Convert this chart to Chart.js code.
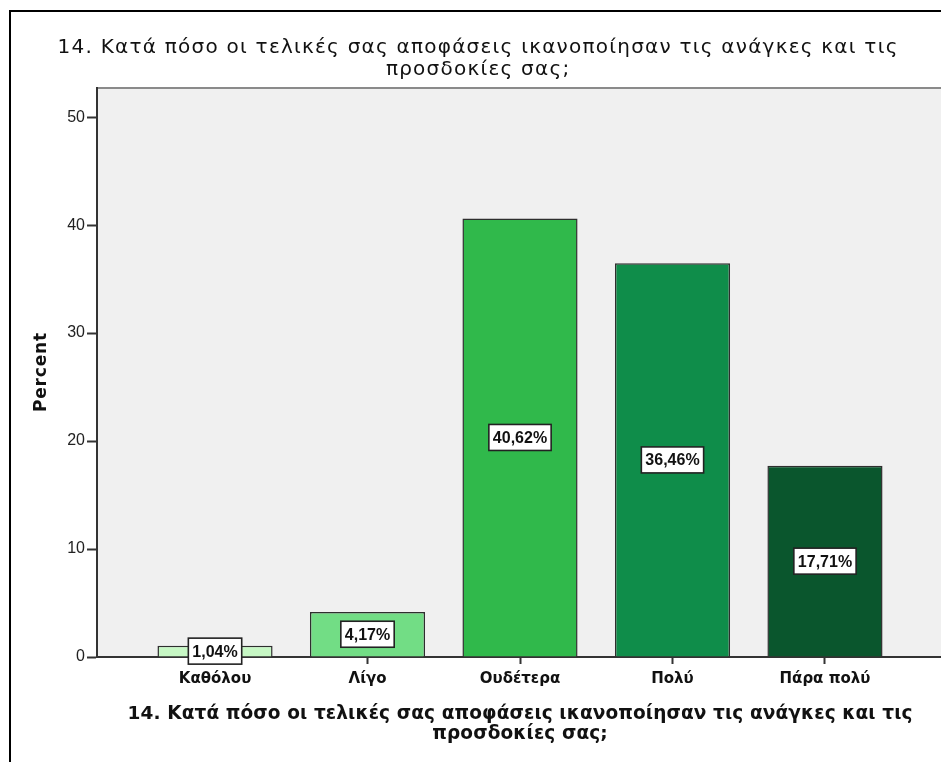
<!DOCTYPE html>
<html>
<head>
<meta charset="utf-8">
<script src="https://cdn.jsdelivr.net/npm/chart.js@4.4.1/dist/chart.umd.min.js"></script>
<style>
  html, body { margin: 0; padding: 0; background: #ffffff; overflow: hidden; }
  canvas { display: block; }
</style>
</head>
<body>
<canvas id="chart" width="960" height="762"></canvas>
<script>
// Question text (used as chart title and as x-axis title)
const questionLines = [
  '14. Κατά πόσο οι τελικές σας αποφάσεις ικανοποίησαν τις ανάγκες και τις',
  'προσδοκίες σας;'
];
// Answer categories and their share of respondents (%)
const categories = ['Καθόλου', 'Λίγο', 'Ουδέτερα', 'Πολύ', 'Πάρα πολύ'];
const percents = [1.04, 4.17, 40.62, 36.46, 17.71];
// Y-axis ticks and title
const yTicks = [0, 10, 20, 30, 40, 50];
const yAxisTitle = 'Percent';

// ---- styling ----
const SANS = "'Liberation Sans', Arial, sans-serif";
const WIDE = "'DejaVu Sans', Verdana, sans-serif";
const barColors = ['#c6f7c4', '#72dd85', '#30b94b', '#0f8d4a', '#0a562d'];
const plotFill = '#f0f0f0';
const inkColor = '#111111';
const axisColor = '#333333';
const catEdge = 0.774;   // space before first / after last category, in category units

Chart.defaults.font.family = SANS;
Chart.defaults.color = inkColor;

// Draw text lines centred on cx; the first line is tracked out to `span` px
function drawSpread(ctx, lines, cx, baseline, gap, font, span) {
  ctx.font = font;
  ctx.letterSpacing = '0px';
  const natural = ctx.measureText(lines[0]).width;
  const sp = (span - natural) / lines[0].length;
  ctx.letterSpacing = sp + 'px';
  ctx.textAlign = 'center';
  ctx.textBaseline = 'alphabetic';
  lines.forEach((t, i) => ctx.fillText(t, cx + sp / 2, baseline + i * gap));
  ctx.letterSpacing = '0px';
}

// Frame, plot background and plot top edge
const backdrop = {
  id: 'backdrop',
  beforeDraw(chart) {
    const { ctx, chartArea: a, width, height } = chart;
    ctx.save();
    ctx.fillStyle = '#ffffff';
    ctx.fillRect(0, 0, width, height);
    ctx.fillStyle = plotFill;
    ctx.fillRect(a.left, a.top, a.right - a.left, a.bottom - a.top);
    // plot area top edge
    ctx.strokeStyle = '#8a8a8a';
    ctx.lineWidth = 2;
    ctx.beginPath();
    ctx.moveTo(a.left, a.top);
    ctx.lineTo(width, a.top);
    ctx.stroke();
    // outer frame
    ctx.strokeStyle = '#000000';
    ctx.lineWidth = 2;
    ctx.beginPath();
    ctx.moveTo(10, height);
    ctx.lineTo(10, 11);
    ctx.lineTo(width, 11);
    ctx.stroke();
    ctx.restore();
  }
};

// Boxed percentage labels at the middle of each bar
const valueLabels = {
  id: 'valueLabels',
  afterDatasetsDraw(chart) {
    const { ctx } = chart;
    const meta = chart.getDatasetMeta(0);
    ctx.save();
    ctx.font = 'bold 16px ' + SANS;
    ctx.textAlign = 'center';
    ctx.textBaseline = 'middle';
    meta.data.forEach((bar, i) => {
      const { x, y, base } = bar.getProps(['x', 'y', 'base'], true);
      const text = percents[i].toFixed(2).replace('.', ',') + '%';
      const cy = (y + base) / 2;
      const w = ctx.measureText(text).width + 8;
      const h = 26;
      ctx.fillStyle = '#ffffff';
      ctx.fillRect(x - w / 2, cy - h / 2, w, h);
      ctx.strokeStyle = '#222222';
      ctx.lineWidth = 1.6;
      ctx.strokeRect(x - w / 2, cy - h / 2, w, h);
      ctx.fillStyle = inkColor;
      ctx.fillText(text, x, cy + 1);
    });
    ctx.restore();
  }
};

// Chart title, x-axis title and y-axis title
const titles = {
  id: 'titles',
  afterDraw(chart) {
    const { ctx, chartArea: a } = chart;
    ctx.save();
    ctx.fillStyle = inkColor;
    drawSpread(ctx, questionLines, 477.5, 53, 21.5, '20px ' + WIDE, 841);
    drawSpread(ctx, questionLines, (a.left + a.right) / 2, 719, 19.5, 'bold 18.5px ' + WIDE, 785);
    ctx.save();
    ctx.translate(46, (a.top + a.bottom) / 2);
    ctx.rotate(-Math.PI / 2);
    drawSpread(ctx, [yAxisTitle], 0, 0, 0, 'bold 17px ' + WIDE, 80);
    ctx.restore();
    ctx.restore();
  }
};

new Chart(document.getElementById('chart'), {
  type: 'bar',
  data: {
    datasets: [{
      data: categories.map((c, i) => ({ x: i, y: percents[i] })),
      backgroundColor: barColors,
      borderColor: '#2e2e2e',
      borderWidth: 1.5,
      categoryPercentage: 1,
      barPercentage: 0.755
    }]
  },
  options: {
    responsive: false,
    devicePixelRatio: 1,
    animation: false,
    layout: { padding: { left: 12, right: 17, top: 88, bottom: 0 } },
    plugins: { legend: { display: false }, tooltip: { enabled: false }, title: { display: false } },
    scales: {
      x: {
        type: 'linear',
        offset: false,
        min: -catEdge,
        max: categories.length - 1 + catEdge,
        afterBuildTicks: s => { s.ticks = categories.map((c, i) => ({ value: i })); },
        afterFit: s => { s.height = 105; },
        grid: { offset: false, drawOnChartArea: false, drawTicks: true, tickLength: 7, tickWidth: 2, tickColor: axisColor },
        border: { display: true, color: axisColor, width: 2 },
        ticks: {
          autoSkip: false, maxRotation: 0, padding: 6,
          font: { family: WIDE, size: 15, weight: 'bold' }, color: inkColor,
          callback: v => categories[v] ?? ''
        }
      },
      y: {
        min: 0,
        max: 52.7,
        afterBuildTicks: s => { s.ticks = yTicks.map(v => ({ value: v })); },
        afterFit: s => { s.width = 85; },
        grid: { drawOnChartArea: false, drawTicks: true, tickLength: 10, tickWidth: 2, tickColor: axisColor },
        border: { display: true, color: axisColor, width: 2 },
        ticks: { padding: 2, font: { size: 16 }, color: '#222222' }
      }
    }
  },
  plugins: [backdrop, valueLabels, titles]
});
</script>
</body>
</html>
